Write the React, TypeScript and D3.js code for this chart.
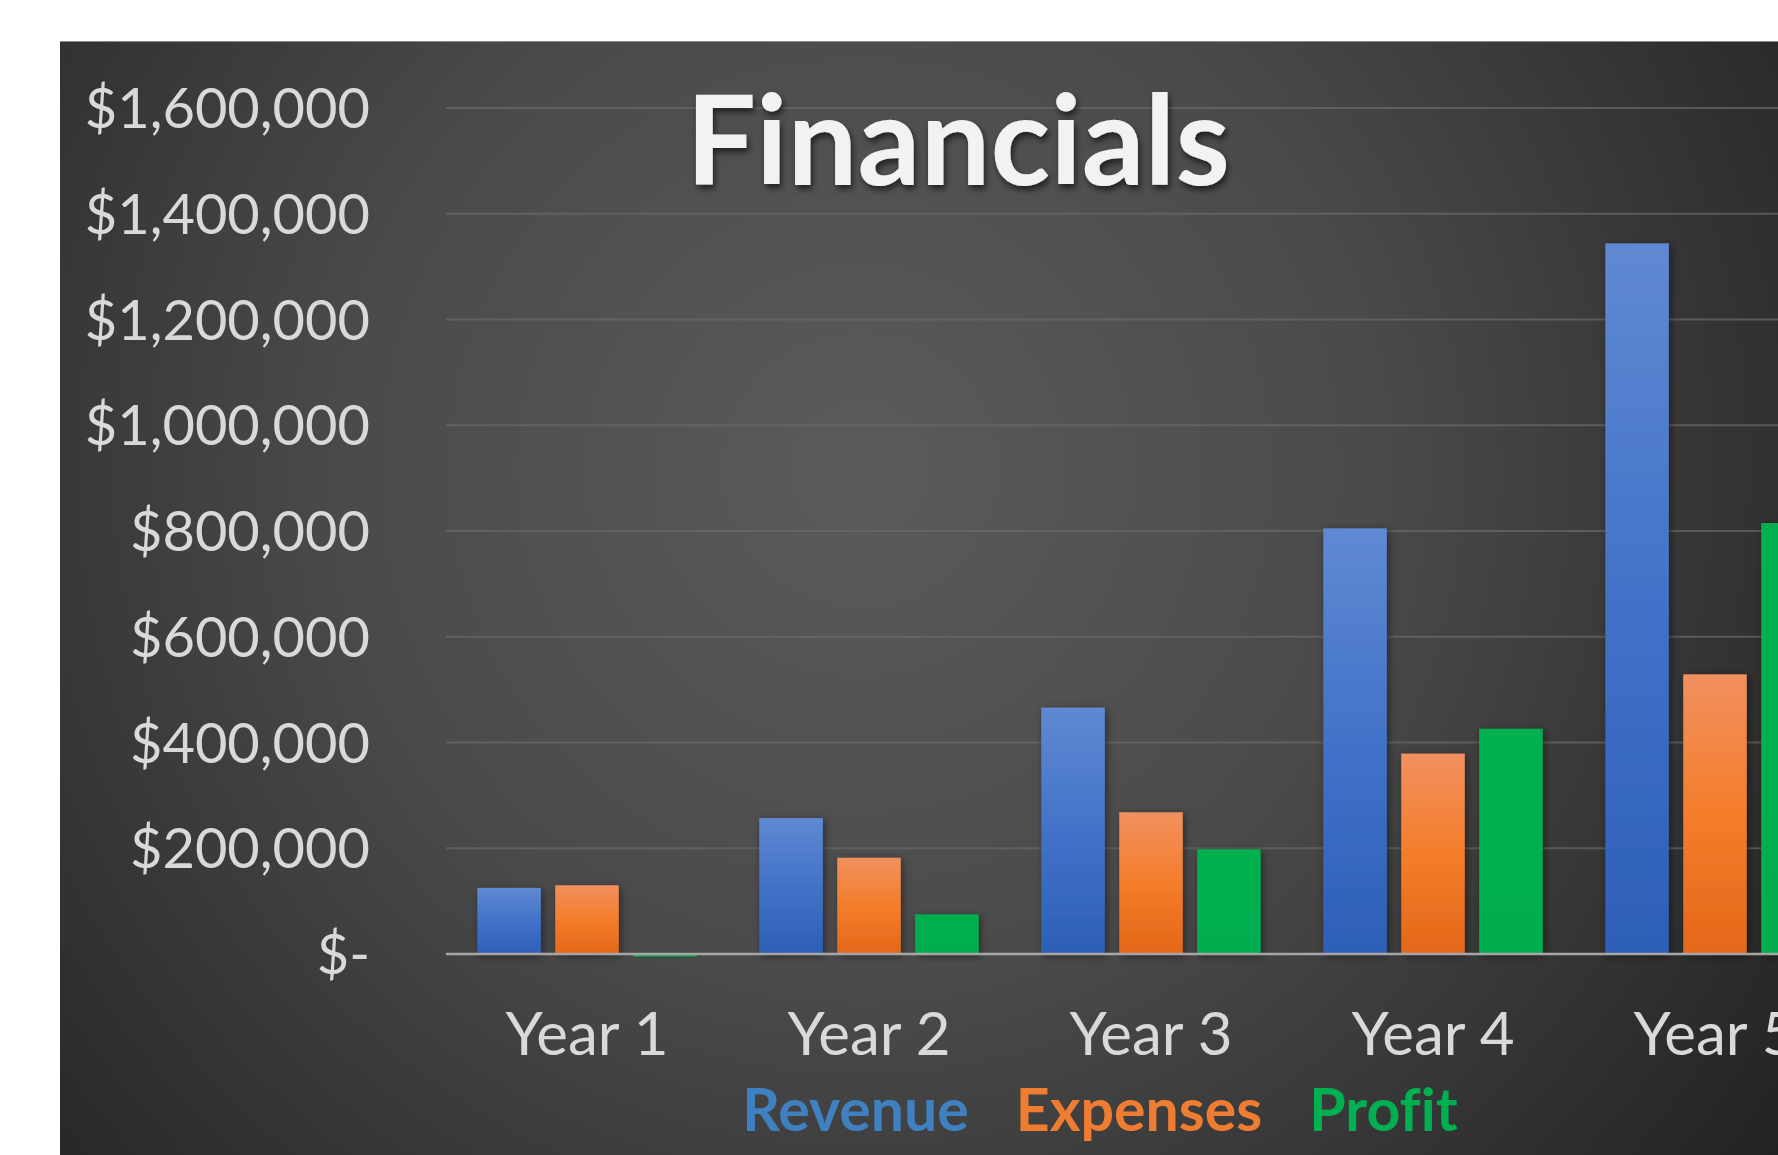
import React, { useEffect, useRef } from "react";
import * as d3 from "d3";

const categories = ["Year 1", "Year 2", "Year 3", "Year 4", "Year 5"];
const seriesNames = ["Revenue", "Expenses", "Profit"];
const revenue = [125000, 257000, 466000, 805000, 1344000];
const expenses = [130000, 182000, 268000, 379000, 529000];
const profit = [-5000, 75000, 198000, 426000, 815000];
const yTicks = [0, 200000, 400000, 600000, 800000, 1000000, 1200000, 1400000, 1600000];
const chartTitle = "Financials";

const W = 1778;
const H = 1155;

export default function App() {
  const ref = useRef<SVGSVGElement | null>(null);

  useEffect(() => {
    const svg = d3.select(ref.current);
    svg.selectAll("*").remove();
    const font = "Lato, 'Open Sans', sans-serif";

    const defs = svg.append("defs");
    const bg = defs
      .append("radialGradient")
      .attr("id", "bg")
      .attr("gradientUnits", "userSpaceOnUse")
      .attr("cx", 860)
      .attr("cy", 470)
      .attr("r", 1150);
    bg.append("stop").attr("offset", "0%").attr("stop-color", "#5b5b5b");
    bg.append("stop").attr("offset", "45%").attr("stop-color", "#4a4a4a");
    bg.append("stop").attr("offset", "100%").attr("stop-color", "#222222");

    const grads: Record<string, [string, string, string]> = {
      Revenue: ["#5f89d2", "#4272c8", "#2d5fb7"],
      Expenses: ["#f1905f", "#f47d2b", "#e3681a"],
      Profit: ["#00b050", "#00b050", "#00ad4f"],
    };
    Object.entries(grads).forEach(([k, c]) => {
      const g = defs
        .append("linearGradient")
        .attr("id", "g-" + k)
        .attr("x1", 0)
        .attr("y1", 0)
        .attr("x2", 0)
        .attr("y2", 1);
      g.append("stop").attr("offset", "0%").attr("stop-color", c[0]);
      g.append("stop").attr("offset", "50%").attr("stop-color", c[1]);
      g.append("stop").attr("offset", "100%").attr("stop-color", c[2]);
    });

    const sh = defs.append("filter").attr("id", "barShadow").attr("x", "-30%").attr("y", "-10%").attr("width", "160%").attr("height", "130%");
    sh.append("feDropShadow").attr("dx", 2).attr("dy", 2).attr("stdDeviation", 4).attr("flood-color", "#000").attr("flood-opacity", 0.45);
    const tsh = defs.append("filter").attr("id", "titleShadow").attr("x", "-10%").attr("y", "-20%").attr("width", "120%").attr("height", "150%");
    tsh.append("feDropShadow").attr("dx", 2).attr("dy", 4).attr("stdDeviation", 3).attr("flood-color", "#000").attr("flood-opacity", 0.6);

    // chart area background
    svg.append("rect").attr("x", 60).attr("y", 41).attr("width", W - 60).attr("height", H - 41).attr("fill", "url(#bg)");
    svg.append("line").attr("x1", 60).attr("x2", W).attr("y1", 41.5).attr("y2", 41.5).attr("stroke", "#8a8a8a").attr("stroke-width", 1);

    const y = d3.scaleLinear().domain([0, 1600000]).range([954, 108]);
    const x0 = d3.scaleBand<string>().domain(categories).range([446, 1856]).paddingInner(0.222).paddingOuter(0.111);
    const x1 = d3.scaleBand<string>().domain(seriesNames).range([0, x0.bandwidth()]).paddingInner(0.185).paddingOuter(0);

    // gridlines
    svg
      .append("g")
      .selectAll("line")
      .data(yTicks.filter((t) => t > 0))
      .join("line")
      .attr("x1", 446)
      .attr("x2", W)
      .attr("y1", (d) => y(d))
      .attr("y2", (d) => y(d))
      .attr("stroke", "#6a6a6a")
      .attr("stroke-width", 2)
      .attr("opacity", 0.7);

    // y labels
    const fmt = d3.format(",");
    svg
      .append("g")
      .selectAll("text")
      .data(yTicks)
      .join("text")
      .attr("x", 370)
      .attr("y", (d) => y(d))
      .attr("dy", "0.36em")
      .attr("text-anchor", "end")
      .attr("font-family", font)
      .attr("font-size", 56)
      .attr("fill", "#d9d9d9")
      .text((d) => (d === 0 ? "$-" : "$" + fmt(d)));

    // bars
    const seriesValues: Record<string, number[]> = { Revenue: revenue, Expenses: expenses, Profit: profit };
    const bars = svg.append("g");
    categories.forEach((cat, i) => {
      seriesNames.forEach((s) => {
        const v = seriesValues[s][i];
        const top = Math.min(y(v), y(0));
        const h = Math.abs(y(v) - y(0));
        bars
          .append("rect")
          .attr("x", (x0(cat) as number) + (x1(s) as number))
          .attr("y", top)
          .attr("width", x1.bandwidth())
          .attr("height", Math.max(h, 1))
          .attr("fill", `url(#g-${s})`)
          .attr("filter", "url(#barShadow)");
      });
    });

    // baseline
    svg.append("line").attr("x1", 446).attr("x2", W).attr("y1", y(0)).attr("y2", y(0)).attr("stroke", "#a6a6a6").attr("stroke-width", 2.5);

    // x labels
    svg
      .append("g")
      .selectAll("text")
      .data(categories)
      .join("text")
      .attr("x", (d) => (x0(d) as number) + x0.bandwidth() / 2)
      .attr("y", 1055)
      .attr("text-anchor", "middle")
      .attr("font-family", font)
      .attr("font-size", 60)
      .attr("fill", "#d9d9d9")
      .text((d) => d);

    // title
    svg
      .append("text")
      .attr("x", 958)
      .attr("y", 185)
      .attr("text-anchor", "middle")
      .attr("font-family", font)
      .attr("font-weight", 700)
      .attr("font-size", 124)
      .attr("fill", "#f2f2f2")
      .attr("filter", "url(#titleShadow)")
      .style("font-variant-ligatures", "none")
      .text(chartTitle);

    // legend
    const legendColors: Record<string, string> = { Revenue: "#3e80c0", Expenses: "#ef7d31", Profit: "#00b050" };
    const lg = svg.append("g");
    const items = seriesNames.map((s) =>
      lg
        .append("text")
        .attr("y", 1131)
        .attr("font-family", font)
        .attr("font-weight", 700)
        .attr("font-size", 59)
        .attr("fill", legendColors[s])
        .style("font-variant-ligatures", "none")
        .text(s)
    );
    const widths = items.map((t) => (t.node() as SVGTextElement).getComputedTextLength());
    const gap = 47;
    const total = widths.reduce((a, b) => a + b, 0) + gap * (widths.length - 1);
    let cx = 1100 - total / 2;
    items.forEach((t, i) => {
      t.attr("x", cx);
      cx += widths[i] + gap;
    });
  }, []);

  return (
    <svg
      ref={ref}
      width={W}
      height={H}
      style={{ position: "absolute", left: 0, top: 0, background: "#ffffff" }}
    />
  );
}
